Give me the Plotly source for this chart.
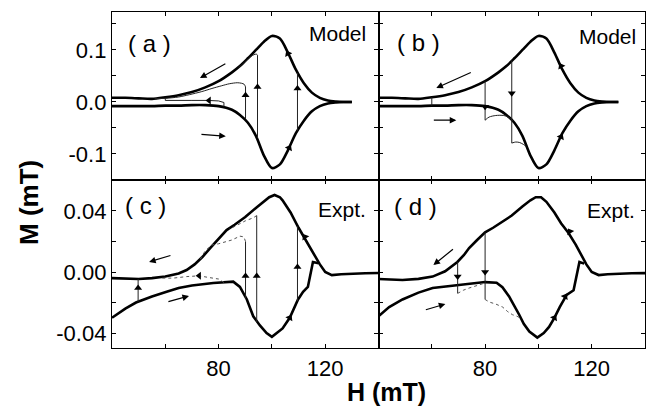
import plotly.graph_objects as go
from plotly.subplots import make_subplots

# ---------------- data ----------------
# Model outer loop (panels a, b)
H_model = [40, 45, 50, 55, 60, 65, 70, 75, 80, 85, 88, 91, 94, 97, 100, 103, 106, 109, 112, 115, 118, 121, 124, 127, 130]
M_model_dec = [0.008, 0.008, 0.007, 0.006, 0.009, 0.013, 0.019, 0.028, 0.040, 0.057, 0.069, 0.084, 0.100, 0.116, 0.127, 0.122, 0.095, 0.062, 0.036, 0.018, 0.008, 0.003, 0.001, 0.0, 0.0]
M_model_inc = [-0.008, -0.008, -0.008, -0.008, -0.007, -0.007, -0.006, -0.006, -0.008, -0.015, -0.025, -0.040, -0.065, -0.103, -0.127, -0.120, -0.093, -0.060, -0.036, -0.018, -0.008, -0.003, -0.001, 0.0, 0.0]

# Panel a minor loops
a_rev_H = [90.1, 94.6, 109.6]
a_rev_low = [-0.033, -0.069, -0.055]
a_rev_high = [0.029, 0.090, 0.056]
a_loop1_H = [90.1, 89.6, 88.6, 87.0, 84.0, 81.0, 77.5, 73.7, 69.0, 65.0, 60.0, 56.0]
a_loop1_M = [0.029, 0.034, 0.036, 0.037, 0.035, 0.031, 0.026, 0.020, 0.014, 0.0096, 0.007, 0.0065]
a_loop2_H = [94.6, 94.2, 93.3, 92.0, 90.5, 89.0, 87.5]
a_loop2_M = [0.090, 0.092, 0.091, 0.087, 0.080, 0.073, 0.066]
a_loop3_H = [82, 82, 80, 76, 70, 64, 60, 60]
a_loop3_M = [-0.009, -0.001, 0.002, 0.003, 0.003, 0.003, 0.003, 0.008]

# Panel b minor loops
b_rev_H = [60, 80, 90]
b_rev_high = [0.009, 0.040, 0.080]
b_rev_low = [-0.007, -0.035, -0.079]
b_loop1_H = [80, 81.5, 84, 87, 89, 90.5]
b_loop1_M = [-0.035, -0.029, -0.026, -0.026, -0.030, -0.037]
b_loop2_H = [90, 91.5, 93, 94.5, 95.5]
b_loop2_M = [-0.079, -0.077, -0.078, -0.082, -0.086]

# Panel c (experiment)
H_c_dec = [40, 45, 50, 55, 60, 65, 68, 71, 74, 77, 80, 83, 86, 90, 94, 97, 99, 101, 103, 104, 107, 110, 113, 116, 118, 120, 122.5, 126, 130, 135, 140]
M_c_dec = [-0.004, -0.0045, -0.0046, -0.004, -0.003, -0.001, 0.0013, 0.005, 0.010, 0.016, 0.022, 0.0275, 0.031, 0.036, 0.042, 0.046, 0.049, 0.0505, 0.049, 0.047, 0.039, 0.029, 0.020, 0.011, 0.005, 0.0, -0.002, -0.0015, -0.001, -0.0008, -0.0006]
H_c_inc = [40, 45, 49, 55, 60.5, 65, 70, 78, 85.5, 88, 90.6, 93, 95.5, 98, 100, 102, 104, 106.7, 109.8, 111.7, 113.5, 115.4, 117.5]
M_c_inc = [-0.030, -0.024, -0.020, -0.016, -0.013, -0.0105, -0.0088, -0.0072, -0.0063, -0.0098, -0.018, -0.029, -0.035, -0.040, -0.0425, -0.040, -0.037, -0.030, -0.018, -0.013, -0.0098, 0.0066, 0.0058]
c_rev_H = [49.8, 90.1, 94.3, 109.6]
c_rev_low = [-0.0195, -0.0175, -0.033, -0.019]
c_rev_high = [-0.0046, 0.020, 0.037, 0.030]
c_loop1_H = [90.1, 89.5, 88, 85, 80, 77.5, 75, 73]
c_loop1_M = [0.020, 0.023, 0.0235, 0.021, 0.0185, 0.0177, 0.014, 0.008]
c_loop2_H = [94.3, 93, 90, 87, 84]
c_loop2_M = [0.037, 0.0355, 0.0335, 0.0305, 0.028]
c_loop3_H = [82, 80, 76, 72.7, 68, 63, 58.8]
c_loop3_M = [-0.0068, -0.0046, -0.0035, -0.0025, -0.003, -0.004, -0.004]

# Panel d (experiment)
H_d_dec = [40, 45, 49, 55, 60.3, 65, 69.6, 72, 74, 77, 80, 83, 86.6, 90, 94, 97, 99, 101, 103, 106, 108.5, 111.3, 114, 116.2, 118, 120, 122.6, 126, 130, 135, 140]
M_d_dec = [-0.0046, -0.005, -0.0052, -0.0045, -0.003, 0.0005, 0.0066, 0.011, 0.0157, 0.021, 0.026, 0.029, 0.033, 0.037, 0.043, 0.047, 0.049, 0.049, 0.046, 0.039, 0.032, 0.0256, 0.018, 0.011, 0.005, 0.0, -0.002, -0.0015, -0.001, -0.0008, -0.0007]
H_d_inc = [40, 44, 49, 55, 60.3, 65, 69.6, 75, 80, 84.3, 86.5, 89, 91, 92.8, 94.5, 96.6, 99.6, 102, 104, 106, 108, 110.6, 113.2, 115.4, 117.2]
M_d_inc = [-0.029, -0.023, -0.018, -0.0135, -0.0105, -0.0095, -0.0085, -0.0075, -0.0066, -0.007, -0.010, -0.016, -0.022, -0.028, -0.034, -0.039, -0.043, -0.040, -0.036, -0.030, -0.023, -0.015, -0.012, 0.0066, 0.0055]
d_rev_H = [69.7, 80]
d_rev_high = [0.0066, 0.026]
d_rev_low = [-0.014, -0.018]
d_loop1_H = [69.7, 72, 74, 77, 80]
d_loop1_M = [-0.014, -0.0118, -0.0105, -0.0088, -0.0072]
d_loop2_H = [80, 81.6, 84, 86.6, 88.5, 90.3, 92, 93]
d_loop2_M = [-0.018, -0.0197, -0.021, -0.023, -0.026, -0.028, -0.029, -0.030]

# direction markers: (H, M, angle)
a_marks_H = [90.1, 94.6, 109.6, 76.4, 106.0, 106.5]
a_marks_M = [0.013, 0.029, 0.026, 0.003, 0.093, -0.088]
a_marks_ang = [0, 0, 0, -90, -28, 28]
b_marks_H = [80, 90, 108.5, 108.5]
b_marks_M = [-0.009, 0.017, 0.069, -0.067]
b_marks_ang = [180, 180, -28, 28]
c_marks_H = [49.8, 90.1, 94.3, 109.6, 72.7, 112.4, 106.7]
c_marks_M = [-0.0105, -0.0026, -0.0026, 0.0033, -0.0025, 0.023, -0.030]
c_marks_ang = [0, 0, 0, 0, -90, -31, 30]
d_marks_H = [69.7, 80, 111.8, 110.0, 106.0]
d_marks_M = [-0.003, 0.0, 0.0265, -0.016, -0.030]
d_marks_ang = [180, 180, -31, 30, 30]

x_ticks = [60, 80, 100, 120]
x_ticktext = ["", "80", "", "120"]
ytop_ticks = [-0.15, -0.1, -0.05, 0, 0.05, 0.1, 0.15]
ytop_ticktext = ["", "-0.1", "", "0.0", "", "0.1", ""]
ybot_ticks = [-0.04, -0.02, 0, 0.02, 0.04]
ybot_ticktext = ["-0.04", "", "0.00", "", "0.04"]

# ---------------- figure ----------------
fig = make_subplots(rows=2, cols=2, horizontal_spacing=0, vertical_spacing=0)

THICK = 2.6
THIN = 1.0


def line(x, y, row, col, width, color="black", shape="linear", dash="solid"):
    fig.add_trace(go.Scatter(x=x, y=y, mode="lines",
                             line=dict(color=color, width=width, shape=shape, dash=dash,
                                       smoothing=0.8 if shape == "spline" else None),
                             hoverinfo="skip", showlegend=False), row=row, col=col)


def verticals(Hs, lows, highs, row, col):
    for h, lo, hi in zip(Hs, lows, highs):
        line([h, h], [lo, hi], row, col, THIN, "#222")


def marks(Hs, Ms, angs, row, col):
    fig.add_trace(go.Scatter(x=Hs, y=Ms, mode="markers",
                             marker=dict(symbol="triangle-up", size=7, color="black", angle=angs,
                                         line=dict(width=0)),
                             hoverinfo="skip", showlegend=False), row=row, col=col)


# Panel a
line(H_model, M_model_dec, 1, 1, THICK, shape="spline")
line(H_model, M_model_inc, 1, 1, THICK, shape="spline")
verticals(a_rev_H, a_rev_low, a_rev_high, 1, 1)
line(a_loop1_H, a_loop1_M, 1, 1, THIN, "#222", "spline")
line(a_loop2_H, a_loop2_M, 1, 1, THIN, "#222", "spline")
line(a_loop3_H, a_loop3_M, 1, 1, THIN, "#222")
marks(a_marks_H, a_marks_M, a_marks_ang, 1, 1)

# Panel b
line(H_model, M_model_dec, 1, 2, THICK, shape="spline")
line(H_model, M_model_inc, 1, 2, THICK, shape="spline")
verticals(b_rev_H, b_rev_low, b_rev_high, 1, 2)
line(b_loop1_H, b_loop1_M, 1, 2, THIN, "#222", "spline")
line(b_loop2_H, b_loop2_M, 1, 2, THIN, "#222", "spline")
marks(b_marks_H, b_marks_M, b_marks_ang, 1, 2)

# Panel c
line(H_c_dec, M_c_dec, 2, 1, THICK)
line(H_c_inc, M_c_inc, 2, 1, THICK)
verticals(c_rev_H, c_rev_low, c_rev_high, 2, 1)
line(c_loop1_H, c_loop1_M, 2, 1, THIN, "#555", dash="dot")
line(c_loop2_H, c_loop2_M, 2, 1, THIN, "#555", dash="dot")
line(c_loop3_H, c_loop3_M, 2, 1, THIN, "#555", dash="dot")
marks(c_marks_H, c_marks_M, c_marks_ang, 2, 1)

# Panel d
line(H_d_dec, M_d_dec, 2, 2, THICK)
line(H_d_inc, M_d_inc, 2, 2, THICK)
verticals(d_rev_H, d_rev_low, d_rev_high, 2, 2)
line(d_loop1_H, d_loop1_M, 2, 2, THIN, "#555", dash="dot")
line(d_loop2_H, d_loop2_M, 2, 2, THIN, "#555", dash="dot")
marks(d_marks_H, d_marks_M, d_marks_ang, 2, 2)

FONT = "Arial, Liberation Sans, Helvetica, sans-serif"
axis_common = dict(showline=True, linecolor="black", linewidth=1.3, mirror="ticks",
                   ticks="inside", ticklen=4, tickwidth=1.2, tickcolor="black",
                   showgrid=False, zeroline=False,
                   tickfont=dict(family=FONT, size=22, color="black"))

for r in (1, 2):
    for c in (1, 2):
        fig.update_xaxes(range=[40, 140], tickvals=x_ticks, ticktext=x_ticktext,
                         showticklabels=(r == 2), row=r, col=c, **axis_common)
        if r == 1:
            fig.update_yaxes(range=[-0.15, 0.173], tickvals=ytop_ticks, ticktext=ytop_ticktext,
                             showticklabels=(c == 1), row=r, col=c, **axis_common)
        else:
            fig.update_yaxes(range=[-0.0498, 0.0603], tickvals=ybot_ticks, ticktext=ybot_ticktext,
                             showticklabels=(c == 1), row=r, col=c, **axis_common)

annotations = []

# page body has an 8px default margin: the figure is laid out 8px smaller and offset
OFF = 8
L, T, PW, PH = 112, 12, 533, 336


def px2paper(px, py):
    return (px - L) / float(PW), (T + PH - py) / float(PH)


def text(s, px, py, size, bold=False, angle=0):
    x, y = px2paper(px, py)
    annotations.append(dict(text=("<b>%s</b>" % s) if bold else s, x=x, y=y, xref="paper", yref="paper",
                            xanchor="center", yanchor="middle", showarrow=False, textangle=angle,
                            font=dict(family=FONT, size=size, color="black")))


text("( a )", 149, 43, 24)
text("( b )", 418, 42, 24)
text("( c )", 145, 206, 24)
text("( d )", 415, 207, 24)
text("Model", 337, 34, 21)
text("Model", 607, 37, 21)
text("Expt.", 342, 209, 21)
text("Expt.", 611, 210, 21)
text("M (mT)", 29, 203, 26, bold=True, angle=-90)
text("H (mT)", 386, 392, 25, bold=True)

# sweep-direction arrows: (xref, yref, head H, head M, tail H, tail M)
sweep_arrows = [
    ("x", "y", 73.0, 0.046, 83.1, 0.075),
    ("x", "y", 82.7, -0.066, 73.0, -0.062),
    ("x2", "y2", 61.7, 0.027, 75.2, 0.058),
    ("x2", "y2", 69.2, -0.035, 60.2, -0.035),
    ("x3", "y3", 53.9, 0.0066, 62.5, 0.0111),
    ("x3", "y3", 68.9, -0.0157, 60.6, -0.0197),
    ("x4", "y4", 60.6, 0.0046, 68.5, 0.0157),
    ("x4", "y4", 65.1, -0.021, 57.2, -0.025),
]
for xr, yr, hx, hy, tx, ty in sweep_arrows:
    annotations.append(dict(x=hx, y=hy, ax=tx, ay=ty, xref=xr, yref=yr, axref=xr, ayref=yr,
                            text="", showarrow=True, arrowhead=2, arrowsize=1.1, arrowwidth=1.2,
                            arrowcolor="black", standoff=0, startstandoff=0))

fig.update_layout(width=657 - OFF, height=407 - OFF,
                  margin=dict(l=L - OFF, r=657 - L - PW, t=T - OFF, b=407 - T - PH),
                  paper_bgcolor="white", plot_bgcolor="white", annotations=annotations,
                  showlegend=False)

fig.write_html("out.html")
